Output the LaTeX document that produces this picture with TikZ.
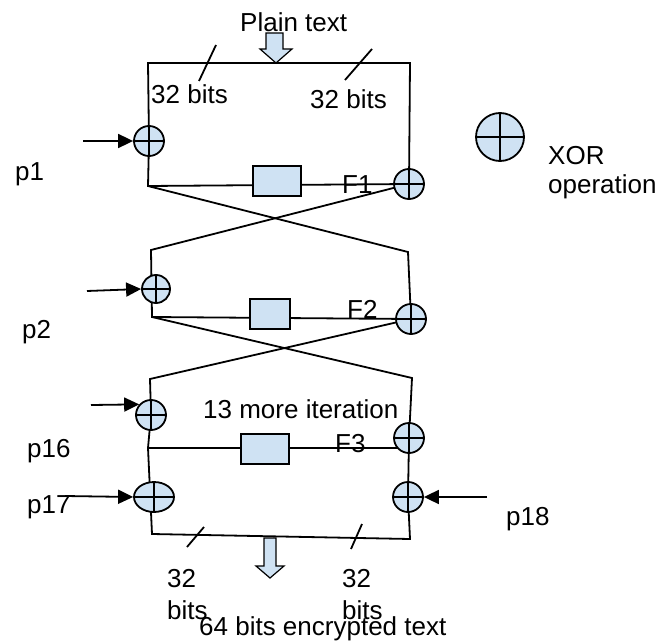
\documentclass[tikz,border=0pt]{standalone}
\usepackage{fontspec}
\setmainfont{Liberation Sans}
\usetikzlibrary{arrows.meta,shapes.geometric,backgrounds}
\definecolor{xorblue}{RGB}{207,226,243}
\tikzset{
  wire/.style={line width=1.8pt},
  parrow/.style={wire,-{Triangle[length=15pt,width=14pt]}},
  xorgate/.style={circle,draw,line width=1.8pt,fill=xorblue,minimum size=30pt,inner sep=0pt,
    path picture={\draw[line width=1.8pt] (path picture bounding box.north)--(path picture bounding box.south)
      (path picture bounding box.west)--(path picture bounding box.east);}},
  fbox/.style={draw,line width=1.8pt,fill=xorblue,minimum width=48pt,minimum height=30pt,inner sep=0pt},
  lbl/.style={anchor=base west,inner sep=0pt,font=\fontsize{26}{30}\selectfont},
  bigarrow/.style={draw,line width=1.2pt,fill=xorblue,line join=miter}
}
\begin{document}
\begin{tikzpicture}[x=1pt,y=-1pt]
\useasboundingbox (0,0) rectangle (659,642);
% XOR gates
\node[xorgate] (xl1) at (149,141) {};
\node[xorgate] (xr1) at (409,184) {};
\node[xorgate,minimum size=28pt] (xl2) at (156,289) {};
\node[xorgate] (xr2) at (411,319) {};
\node[xorgate] (xl16) at (151,415) {};
\node[xorgate] (xr3) at (409,438) {};
\node[xorgate,ellipse,minimum width=40pt,minimum height=30pt] (xl17) at (154,497) {};
\node[xorgate] (xr18) at (408,497) {};
\node[xorgate,minimum size=48pt] (leg) at (500,137) {};
% F boxes
\node[fbox] (f1) at (277,181) {};
\node[fbox,minimum width=40pt] (f2) at (270,314) {};
\node[fbox] (f3) at (265,449) {};
% coordinates
\coordinate (tl) at (148,63);
\coordinate (tr) at (410,63);
\coordinate (f1l) at (148,186);
\coordinate (c1r) at (408,252);
\coordinate (c1l) at (151,250);
\coordinate (f2l) at (152,317);
\coordinate (c2r) at (412,378);
\coordinate (c2l) at (150,379);
\coordinate (f3l) at (148,448);
\coordinate (bl) at (152,534);
\coordinate (br) at (410,539);
\coordinate (p1s) at (83,141);
\coordinate (p2s) at (87,291);
\coordinate (p16s) at (91,405);
\coordinate (p17s) at (65,496);
\coordinate (p18s) at (487,497);
\begin{scope}[on background layer]
  \draw[wire] (xl1.center) -- (tl) -- (tr) -- (xr1.center);
  \draw[wire] (xl1.center) -- (f1l) -- (xr1.center);
  \draw[wire] (f1l) -- (c1r) -- (xr2.center);
  \draw[wire] (xr1.center) -- (c1l) -- (f2l) -- (xr2.center);
  \draw[wire] (f2l) -- (c2r) -- (xr3.center);
  \draw[wire] (xr2.center) -- (c2l) -- (xl16.center) -- (f3l) -- (xr3.center |- f3l);
  \draw[wire] (f3l) -- (bl) -- (br) -- (xr18.center) -- (xr3.center);
  % 32-bit tick marks
  \draw[wire] (216,45) -- (199,81);
  \draw[wire] (372,49) -- (345,80);
  \draw[wire] (204,527) -- (187,547);
  \draw[wire] (362,524) -- (351,549);
\end{scope}
% key arrows
\draw[parrow] (p1s) -- (xl1.west);
\draw[parrow] (p2s) -- (xl2.west);
\draw[parrow] (p16s) -- (xl16.138);
\draw[parrow] (p17s) -- (xl17.west);
\draw[parrow] (p18s) -- (xr18.east);
% big arrows
\draw[bigarrow] (266,33) -- (283,33) -- (283,49) -- (292,49) -- (276,63) -- (260,49) -- (266,49) -- cycle;
\draw[bigarrow] (264,538) -- (276,538) -- (276,566) -- (284,566) -- (270,578) -- (256,566) -- (264,566) -- cycle;
% labels
\node[lbl] (plain) at (240,32) {Plain text};
\node[lbl] (b1) at (151,103) {32 bits};
\node[lbl] (b2) at (310,108) {32 bits};
\node[lbl] (p1) at (15,180) {p1};
\node[lbl] (xorl) at (548,164) {XOR};
\node[lbl] (opl) at (548,193) {operation};
\node[lbl] (F1) at (342,193) {F1};
\node[lbl] (p2) at (22,338) {p2};
\node[lbl] (F2) at (347,318) {F2};
\node[lbl] (iter) at (203,418) {13 more iteration};
\node[lbl] (p16) at (27,457) {p16};
\node[lbl] (F3) at (335,452) {F3};
\node[lbl] (p17) at (27,513) {p17};
\node[lbl] (p18) at (506,525) {p18};
\node[lbl] (b3a) at (167,587) {32};
\node[lbl] (b3b) at (167,619) {bits};
\node[lbl] (b4a) at (342,587) {32};
\node[lbl] (b4b) at (342,619) {bits};
\node[lbl] (enc) at (199,635) {64 bits encrypted text};
\end{tikzpicture}
\end{document}
